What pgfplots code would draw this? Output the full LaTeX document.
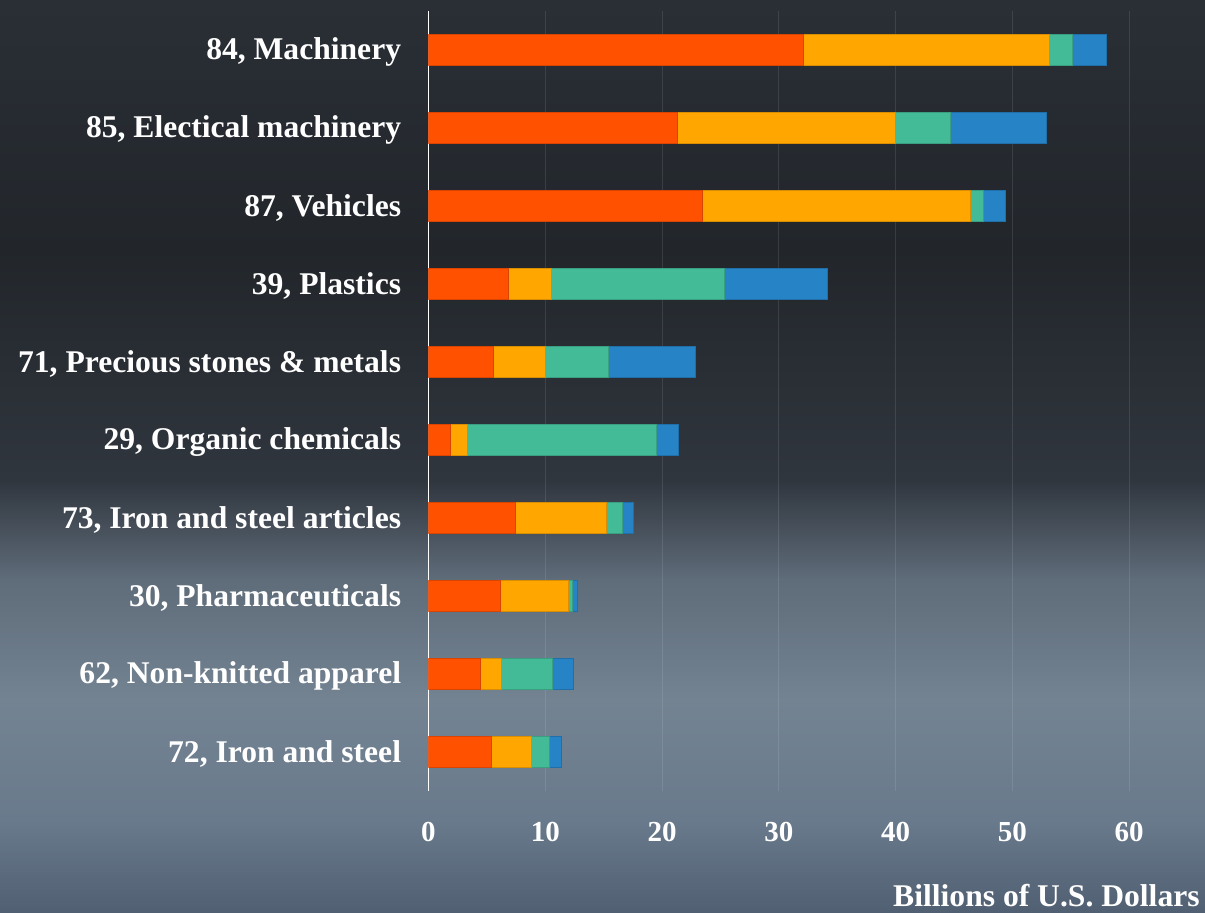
\documentclass[border=0pt]{standalone}
\usepackage{fontspec}
\setmainfont{Liberation Serif}
\usepackage{pgfplots}
\pgfplotsset{compat=1.18}
\definecolor{cA}{RGB}{255,81,0}
\definecolor{cB}{RGB}{255,166,0}
\definecolor{cC}{RGB}{67,187,151}
\definecolor{cD}{RGB}{38,131,198}
\definecolor{bg0}{RGB}{42,47,54}
\definecolor{bg1}{RGB}{34,38,43}
\definecolor{bg2}{RGB}{48,54,62}
\definecolor{bg3}{RGB}{95,108,122}
\definecolor{bg4}{RGB}{115,131,146}
\definecolor{bg5}{RGB}{105,122,140}
\definecolor{bg6}{RGB}{80,96,114}
\begin{document}
\begin{tikzpicture}
\fill[top color=bg0, bottom color=bg1] (0,456.5pt) rectangle (602.5pt,331.5pt);
\fill[top color=bg1, bottom color=bg2] (0,331.6pt) rectangle (602.5pt,216.5pt);
\fill[top color=bg2, bottom color=bg3] (0,216.6pt) rectangle (602.5pt,166.5pt);
\fill[top color=bg3, bottom color=bg4] (0,166.6pt) rectangle (602.5pt,106.5pt);
\fill[top color=bg4, bottom color=bg5] (0,106.6pt) rectangle (602.5pt,46.5pt);
\fill[top color=bg5, bottom color=bg6] (0,46.6pt) rectangle (602.5pt,0pt);
\path[use as bounding box] (0,0) rectangle (602.5pt,456.5pt);
\begin{axis}[
  at={(214.25pt,61pt)}, anchor=south west,
  scale only axis, width=361.95pt, height=390pt,
  xbar stacked, bar width=15.5pt,
  xmin=0, xmax=62, ymin=-0.5, ymax=9.5, y dir=reverse,
  ytick={0,...,9},
  yticklabels={{84, Machinery},{85, Electical machinery},{87, Vehicles},{39, Plastics},{71, Precious stones \& metals},{29, Organic chemicals},{73, Iron and steel articles},{30, Pharmaceuticals},{62, Non-knitted apparel},{72, Iron and steel}},
  xtick={0,10,...,60},
  axis y line*=left, axis x line*=bottom,
  x axis line style={draw=none},
  y axis line style={white, line width=0.9pt, -},
  ytick style={draw=none}, xtick style={draw=none},
  xmajorgrids, grid style={white, opacity=0.1, line width=0.5pt},
  yticklabel style={font=\fontsize{15.8}{18}\selectfont\bfseries, text=white, inner sep=0pt, anchor=east, xshift=-13.5pt, yshift=-1pt},
  xticklabel style={font=\fontsize{14.5}{16}\selectfont\bfseries, text=white, inner sep=0pt, anchor=north, yshift=-15.5pt},
  /pgf/number format/assume math mode=true,
  xlabel={Billions of U.S. Dollars},
  xlabel style={at={(axis description cs:1.0658,-0.1487)}, anchor=base east, font=\fontsize{15.8}{18}\selectfont\bfseries, text=white, inner sep=0pt},
]
\addplot[fill=cA, draw=cA!85!black, line width=0.4pt] coordinates {(32.15,0) (21.3,1) (23.5,2) (6.88,3) (5.58,4) (1.91,5) (7.45,6) (6.15,7) (4.44,8) (5.35,9)};
\addplot[fill=cB, draw=cB!85!black, line width=0.4pt] coordinates {(21.04,0) (18.7,1) (22.9,2) (3.63,3) (4.43,4) (1.45,5) (7.8,6) (5.8,7) (1.83,8) (3.43,9)};
\addplot[fill=cC, draw=cC!85!black, line width=0.4pt] coordinates {(1.94,0) (4.7,1) (1.1,2) (14.8,3) (5.36,4) (16.14,5) (1.38,6) (0.34,7) (4.31,8) (1.6,9)};
\addplot[fill=cD, draw=cD!85!black, line width=0.4pt] coordinates {(2.95,0) (8.22,1) (1.9,2) (8.83,3) (7.46,4) (1.91,5) (0.88,6) (0.49,7) (1.86,8) (0.99,9)};
\end{axis}
\end{tikzpicture}
\end{document}
